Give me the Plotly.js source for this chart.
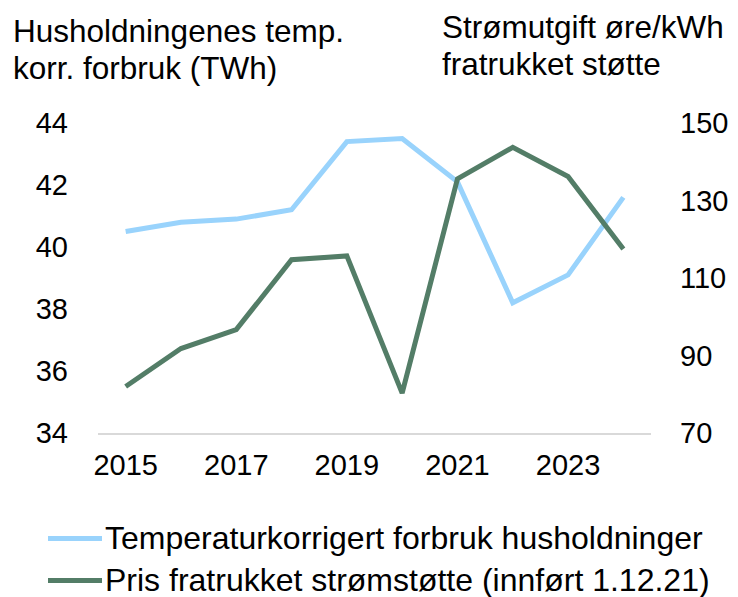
<!DOCTYPE html>
<html>
<head>
<meta charset="utf-8">
<script src="https://cdn.plot.ly/plotly-3.0.1.min.js"></script>
<style>html,body{margin:0;padding:0;background:#fff;}#chart{width:738px;height:597px;}</style>
</head>
<body>
<div id="chart"></div>
<script>
const years = [2015, 2016, 2017, 2018, 2019, 2020, 2021, 2022, 2023, 2024];
const consumption = [40.5, 40.8, 40.9, 41.2, 43.4, 43.5, 42.1, 38.2, 39.1, 41.6];
const price = [82.0, 91.8, 96.7, 114.7, 115.7, 80.3, 135.6, 143.7, 136.2, 117.5];
const xTicks = [2015, 2017, 2019, 2021, 2023];
const leftTicks = [34, 36, 38, 40, 42, 44];
const rightTicks = [70, 90, 110, 130, 150];
const seriesNames = ['Temperaturkorrigert forbruk husholdninger', 'Pris fratrukket strømstøtte (innført 1.12.21)'];
const leftTitle = ['Husholdningenes temp.', 'korr. forbruk (TWh)'];
const rightTitle = ['Strømutgift øre/kWh', 'fratrukket støtte'];

const blue = '#99d3fc';
const green = '#537d67';
const font = 'Liberation Sans, Arial, sans-serif';

const W = 738, H = 597;
const L = 98, R = 651, T = 123, B = 433.3;
const fx = px => (px - L) / (R - L);
const fy = py => (B - py) / (B - T);

const traces = [
  {x: years, y: consumption, type: 'scatter', mode: 'lines', name: seriesNames[0],
   line: {color: blue, width: 5}, yaxis: 'y', showlegend: false},
  {x: years, y: price, type: 'scatter', mode: 'lines', name: seriesNames[1],
   line: {color: green, width: 5}, yaxis: 'y2', showlegend: false}
];

const annotations = [];
leftTitle.forEach((t, i) => annotations.push({
  text: t, xref: 'paper', yref: 'paper', x: fx(11), y: fy(31 + i * 37),
  xanchor: 'left', yanchor: 'middle', showarrow: false,
  font: {family: font, size: 31.5, color: '#000'}
}));
rightTitle.forEach((t, i) => annotations.push({
  text: t, xref: 'paper', yref: 'paper', x: fx(440), y: fy(27 + i * 37),
  xanchor: 'left', yanchor: 'middle', showarrow: false,
  font: {family: font, size: 31.5, color: '#000'}
}));
const legendY = [538, 580];
const shapes = [];
seriesNames.forEach((n, i) => {
  annotations.push({
    text: n, xref: 'paper', yref: 'paper', x: fx(103), y: fy(legendY[i]),
    xanchor: 'left', yanchor: 'middle', showarrow: false,
    font: {family: font, size: 32, color: '#000'}
  });
  shapes.push({
    type: 'line', xref: 'paper', yref: 'paper',
    x0: fx(48), x1: fx(102), y0: fy(legendY[i] + 1), y1: fy(legendY[i] + 1),
    line: {color: i === 0 ? blue : green, width: 5}
  });
});

const layout = {
  width: W, height: H,
  margin: {l: L, r: W - R, t: T, b: H - B},
  paper_bgcolor: '#fff', plot_bgcolor: '#fff',
  showlegend: false,
  xaxis: {
    range: [2014.5, 2024.5], tickvals: xTicks, ticktext: xTicks.map(String),
    showgrid: false, zeroline: false, showline: true, linecolor: '#d9d9d9', linewidth: 1.5,
    ticks: '', tickfont: {family: font, size: 29, color: '#000'}, fixedrange: true,
    ticklabelstandoff: 6
  },
  yaxis: {
    range: [34, 44], tickvals: leftTicks, showgrid: false, zeroline: false,
    showline: false, ticks: '', tickfont: {family: font, size: 29, color: '#000'},
    ticklabelstandoff: 29
  },
  yaxis2: {
    range: [70, 150], tickvals: rightTicks, overlaying: 'y', side: 'right',
    showgrid: false, zeroline: false, showline: false, ticks: '',
    tickfont: {family: font, size: 29, color: '#000'}, ticklabelstandoff: 28
  },
  annotations: annotations,
  shapes: shapes
};

Plotly.newPlot('chart', traces, layout, {displayModeBar: false, staticPlot: true});
</script>
</body>
</html>
